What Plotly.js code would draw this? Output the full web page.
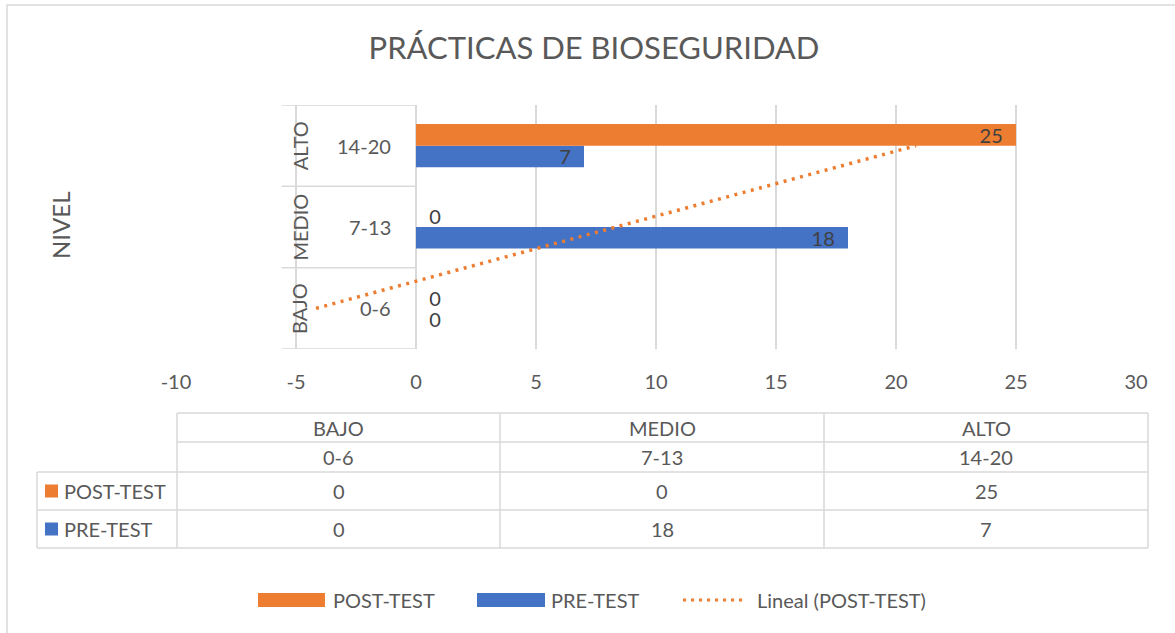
<!DOCTYPE html>
<html>
<head>
<meta charset="utf-8">
<script src="https://cdn.plot.ly/plotly-3.0.1.min.js"></script>
<style>html,body{margin:0;padding:0;background:#fff;}#chart{width:1175px;height:633px;}</style>
</head>
<body>
<div id="chart"></div>
<script>
// ---- data ----
const chartTitle = 'PRÁCTICAS DE BIOSEGURIDAD';
const yAxisTitle = 'NIVEL';
const categories = ['BAJO', 'MEDIO', 'ALTO'];
const ranges = ['0-6', '7-13', '14-20'];
const postName = 'POST-TEST';
const preName = 'PRE-TEST';
const trendName = 'Lineal (POST-TEST)';
const postTest = [0, 0, 25];
const preTest = [0, 18, 7];
const xTickVals = [-10, -5, 0, 5, 10, 15, 20, 25, 30];

// ---- styles ----
const ORANGE = '#ED7D31', BLUE = '#4472C4', TXT = '#595959', LBL = '#404040', GRID = '#D9D9D9';
const FONT = 'Lato, "Liberation Sans", sans-serif';
const FS = 20;
const W = 1175, H = 633;
const M = {l: 176, r: 39, t: 105, b: 284};
const PW = W - M.l - M.r, PH = H - M.t - M.b;
const px = x => (x - M.l) / PW;
const py = y => (H - M.b - y) / PH;

// linear trendline of POST-TEST over category index (1..n), as Excel does
const n = postTest.length;
const idx = postTest.map((_, i) => i + 1);
const mx = idx.reduce((a, b) => a + b, 0) / n;
const my = postTest.reduce((a, b) => a + b, 0) / n;
let sxy = 0, sxx = 0;
for (let i = 0; i < n; i++) { sxy += (idx[i] - mx) * (postTest[i] - my); sxx += (idx[i] - mx) ** 2; }
const slope = sxy / sxx, icpt = my - slope * mx;
const trend = idx.map(k => icpt + slope * k);

const NB = '\u00a0';
const tplFor = v => v > 0 ? '%{x}' + NB.repeat(2) : NB.repeat(2) + '%{x}';
const posFor = v => v > 0 ? 'inside' : 'outside';

const traces = [
  {type: 'bar', orientation: 'h', name: preName, y: categories, x: preTest,
   marker: {color: BLUE}, texttemplate: preTest.map(tplFor), textposition: preTest.map(posFor),
   insidetextanchor: 'end', textangle: 0, constraintext: 'none', textfont: {family: FONT, size: FS, color: LBL}, cliponaxis: false,
   showlegend: false, hoverinfo: 'x+name'},
  {type: 'bar', orientation: 'h', name: postName, y: categories, x: postTest,
   marker: {color: ORANGE}, texttemplate: postTest.map(tplFor), textposition: postTest.map(posFor),
   insidetextanchor: 'end', textangle: 0, constraintext: 'none', textfont: {family: FONT, size: FS, color: LBL}, cliponaxis: false,
   showlegend: false, hoverinfo: 'x+name'},
  {type: 'scatter', mode: 'lines', name: trendName, y: categories, x: trend,
   line: {color: ORANGE, width: 3.5, dash: '3px,5.5px'}, showlegend: false, hoverinfo: 'skip'}
];

const shapes = [];
const annotations = [];
const lineP = (x0, y0, x1, y1) => shapes.push({type: 'line', xref: 'paper', yref: 'paper',
  x0: px(x0), y0: py(y0), x1: px(x1), y1: py(y1), line: {color: GRID, width: 1.5}, layer: 'below'});

// outer chart border
shapes.push({type: 'rect', xref: 'paper', yref: 'paper', x0: px(7), y0: py(5), x1: px(1200), y1: py(660),
  line: {color: GRID, width: 1.5}, layer: 'below'});

// multi-level category box (left of the value axis)
for (let k = 0; k <= categories.length; k++) {
  shapes.push({type: 'line', xref: 'x', yref: 'y', x0: -5.6, x1: 0, y0: k - 0.5, y1: k - 0.5,
    line: {color: GRID, width: 1.5}, layer: 'below'});
}
shapes.push({type: 'line', xref: 'x', yref: 'y', x0: -5, x1: -5, y0: -0.5, y1: categories.length - 0.5,
  line: {color: GRID, width: 1.5}, layer: 'below'});
categories.forEach((c, i) => {
  annotations.push({xref: 'x', yref: 'y', x: -4.85, y: i, text: c, textangle: -90, showarrow: false,
    xanchor: 'center', yanchor: 'middle', font: {family: FONT, size: FS, color: TXT}});
  annotations.push({xref: 'x', yref: 'y', x: -0.95, y: i, text: ranges[i], showarrow: false,
    xanchor: 'right', yanchor: 'middle', font: {family: FONT, size: FS, color: TXT}});
});

// y axis title
annotations.push({xref: 'paper', yref: 'paper', x: px(60), y: py(226), text: yAxisTitle, textangle: -90,
  showarrow: false, xanchor: 'center', yanchor: 'middle', font: {family: FONT, size: 24, color: TXT}});

// data table
const colX = [177, 500, 824, 1148];
const rowY = [413, 442, 472, 510, 548];
const keyX = 37;
lineP(colX[0], rowY[0], colX[3], rowY[0]);
lineP(colX[0], rowY[1], colX[3], rowY[1]);
lineP(keyX, rowY[2], colX[3], rowY[2]);
lineP(keyX, rowY[3], colX[3], rowY[3]);
lineP(keyX, rowY[4], colX[3], rowY[4]);
lineP(keyX, rowY[2], keyX, rowY[4]);
colX.forEach(x => lineP(x, rowY[0], x, rowY[4]));
const rowC = k => (rowY[k] + rowY[k + 1]) / 2;
const seriesRows = [[postName, postTest, ORANGE], [preName, preTest, BLUE]];
categories.forEach((c, i) => {
  const cx = (colX[i] + colX[i + 1]) / 2;
  annotations.push({xref: 'paper', yref: 'paper', x: px(cx), y: py(rowC(0)), text: c, showarrow: false,
    xanchor: 'center', yanchor: 'middle', font: {family: FONT, size: FS, color: TXT}});
  annotations.push({xref: 'paper', yref: 'paper', x: px(cx), y: py(rowC(1)), text: ranges[i], showarrow: false,
    xanchor: 'center', yanchor: 'middle', font: {family: FONT, size: FS, color: TXT}});
  seriesRows.forEach((s, r) => {
    annotations.push({xref: 'paper', yref: 'paper', x: px(cx), y: py(rowC(2 + r)), text: String(s[1][i]),
      showarrow: false, xanchor: 'center', yanchor: 'middle', font: {family: FONT, size: FS, color: TXT}});
  });
});
seriesRows.forEach((s, r) => {
  const cy = rowC(2 + r);
  shapes.push({type: 'rect', xref: 'paper', yref: 'paper', x0: px(45), x1: px(58), y0: py(cy - 6.5), y1: py(cy + 6.5),
    line: {width: 0}, fillcolor: s[2]});
  annotations.push({xref: 'paper', yref: 'paper', x: px(62), y: py(cy), text: s[0], showarrow: false,
    xanchor: 'left', yanchor: 'middle', font: {family: FONT, size: FS, color: TXT}});
});

// custom legend
const legY = 600;
const legItems = [
  {name: postName, kind: 'bar', color: ORANGE, x0: 258, x1: 325, tx: 331},
  {name: preName, kind: 'bar', color: BLUE, x0: 477, x1: 545, tx: 549},
  {name: trendName, kind: 'line', color: ORANGE, x0: 683, x1: 745, tx: 755}
];
legItems.forEach(it => {
  if (it.kind === 'bar') {
    shapes.push({type: 'rect', xref: 'paper', yref: 'paper', x0: px(it.x0), x1: px(it.x1), y0: py(legY - 7), y1: py(legY + 7),
      line: {width: 0}, fillcolor: it.color});
  } else {
    shapes.push({type: 'line', xref: 'paper', yref: 'paper', x0: px(it.x0), x1: px(it.x1), y0: py(legY), y1: py(legY),
      line: {width: 3, color: it.color, dash: '3px,5px'}});
  }
  annotations.push({xref: 'paper', yref: 'paper', x: px(it.tx), y: py(legY), text: it.name, showarrow: false,
    xanchor: 'left', yanchor: 'middle', font: {family: FONT, size: FS, color: TXT}});
});

const layout = {
  width: W, height: H,
  margin: M,
  paper_bgcolor: '#fff', plot_bgcolor: '#fff',
  font: {family: FONT, color: TXT},
  title: {text: chartTitle, font: {family: FONT, size: 31, color: TXT},
          xref: 'container', x: 594 / W, xanchor: 'center', yref: 'container', y: 1 - 48 / H, yanchor: 'middle'},
  barmode: 'group', bargap: 0.47, bargroupgap: 0,
  xaxis: {range: [-10, 30], tickvals: xTickVals, ticktext: xTickVals.map(String), showgrid: true, gridcolor: GRID, gridwidth: 1.5,
          zeroline: true, zerolinecolor: GRID, zerolinewidth: 1.5, showline: false, ticks: '',
          tickfont: {family: FONT, size: FS, color: TXT}, ticklabelstandoff: 19, fixedrange: true},
  yaxis: {type: 'category', categoryorder: 'array', categoryarray: categories, range: [-0.5, categories.length - 0.5],
          showticklabels: false, showgrid: false, zeroline: false, showline: false, ticks: '', fixedrange: true},
  shapes: shapes,
  annotations: annotations,
  showlegend: false
};

Plotly.newPlot('chart', traces, layout, {displayModeBar: false, staticPlot: true});
</script>
</body>
</html>
